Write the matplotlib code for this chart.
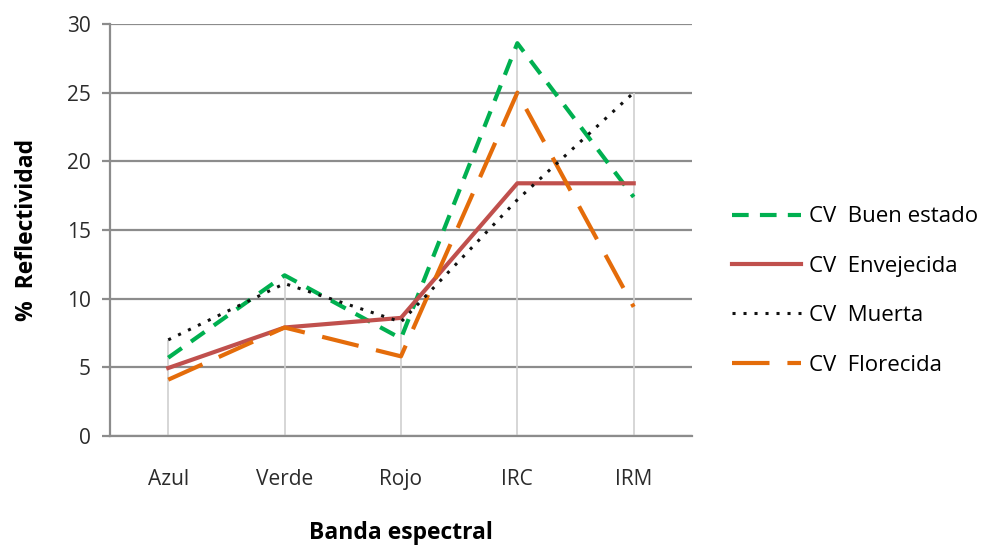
import matplotlib.pyplot as plt
import numpy as np

plt.rcParams['font.family'] = ['Open Sans', 'DejaVu Sans']

bandas = ['Azul', 'Verde', 'Rojo', 'IRC', 'IRM']
buen_estado = [5.7, 11.7, 7.1, 28.6, 17.4]
envejecida = [4.95, 7.9, 8.6, 18.4, 18.4]
muerta = [7.0, 11.1, 8.3, 17.2, 25.0]
florecida = [4.1, 7.9, 5.8, 25.0, 9.4]

x = np.arange(len(bandas))

fig = plt.figure(figsize=(9.87, 5.45), dpi=100)
ax = fig.add_axes([0.1115, 0.2, 0.5895, 0.756])

# horizontal grid
for v in range(0, 31, 5):
    ax.axhline(v, color='#8c8c8c', lw=1.6, zorder=1)

# drop lines from the highest series value to the axis
tops = np.max([buen_estado, envejecida, muerta, florecida], axis=0)
ax.vlines(x, 0, tops, color='#d0d0d0', lw=1.2, zorder=1)

ax.plot(x, buen_estado, color='#00b050', lw=3, ls=(0, (4, 2.7)), label='CV  Buen estado', zorder=3)
ax.plot(x, envejecida, color='#c0504d', lw=3, label='CV  Envejecida', zorder=3)
ax.plot(x, muerta, color='#111111', lw=2.2, ls=(0, (1, 2.6)), label='CV  Muerta', zorder=4)
ax.plot(x, florecida, color='#e46c0a', lw=3, ls=(0, (9, 4.3)), label='CV  Florecida', zorder=3)

ax.set_xlim(-0.5, 4.5)
ax.set_ylim(0, 30)
ax.set_yticks(range(0, 31, 5))
ax.set_xticks(x)
ax.set_xticklabels(bandas)
ax.tick_params(axis='y', length=6, color='#8c8c8c', width=1.6, labelsize=15,
               labelcolor='#2b2b2b', pad=8)
ax.tick_params(axis='x', length=0, labelsize=15, labelcolor='#2b2b2b', pad=24)

for s in ['top', 'right']:
    ax.spines[s].set_visible(False)
for s in ['left', 'bottom']:
    ax.spines[s].set_color('#8c8c8c')
    ax.spines[s].set_linewidth(1.6)

ax.set_xlabel('Banda espectral', fontsize=16.5, fontweight='bold', labelpad=22)
ax.set_ylabel('%  Reflectividad', fontsize=16.5, fontweight='bold', labelpad=20)

ax.legend(loc='center left', bbox_to_anchor=(1.034, 0.352), frameon=False,
          fontsize=16, handlelength=3.1, handletextpad=0.36, labelspacing=1.28)

fig.savefig('out.png', dpi=100, facecolor='white')
